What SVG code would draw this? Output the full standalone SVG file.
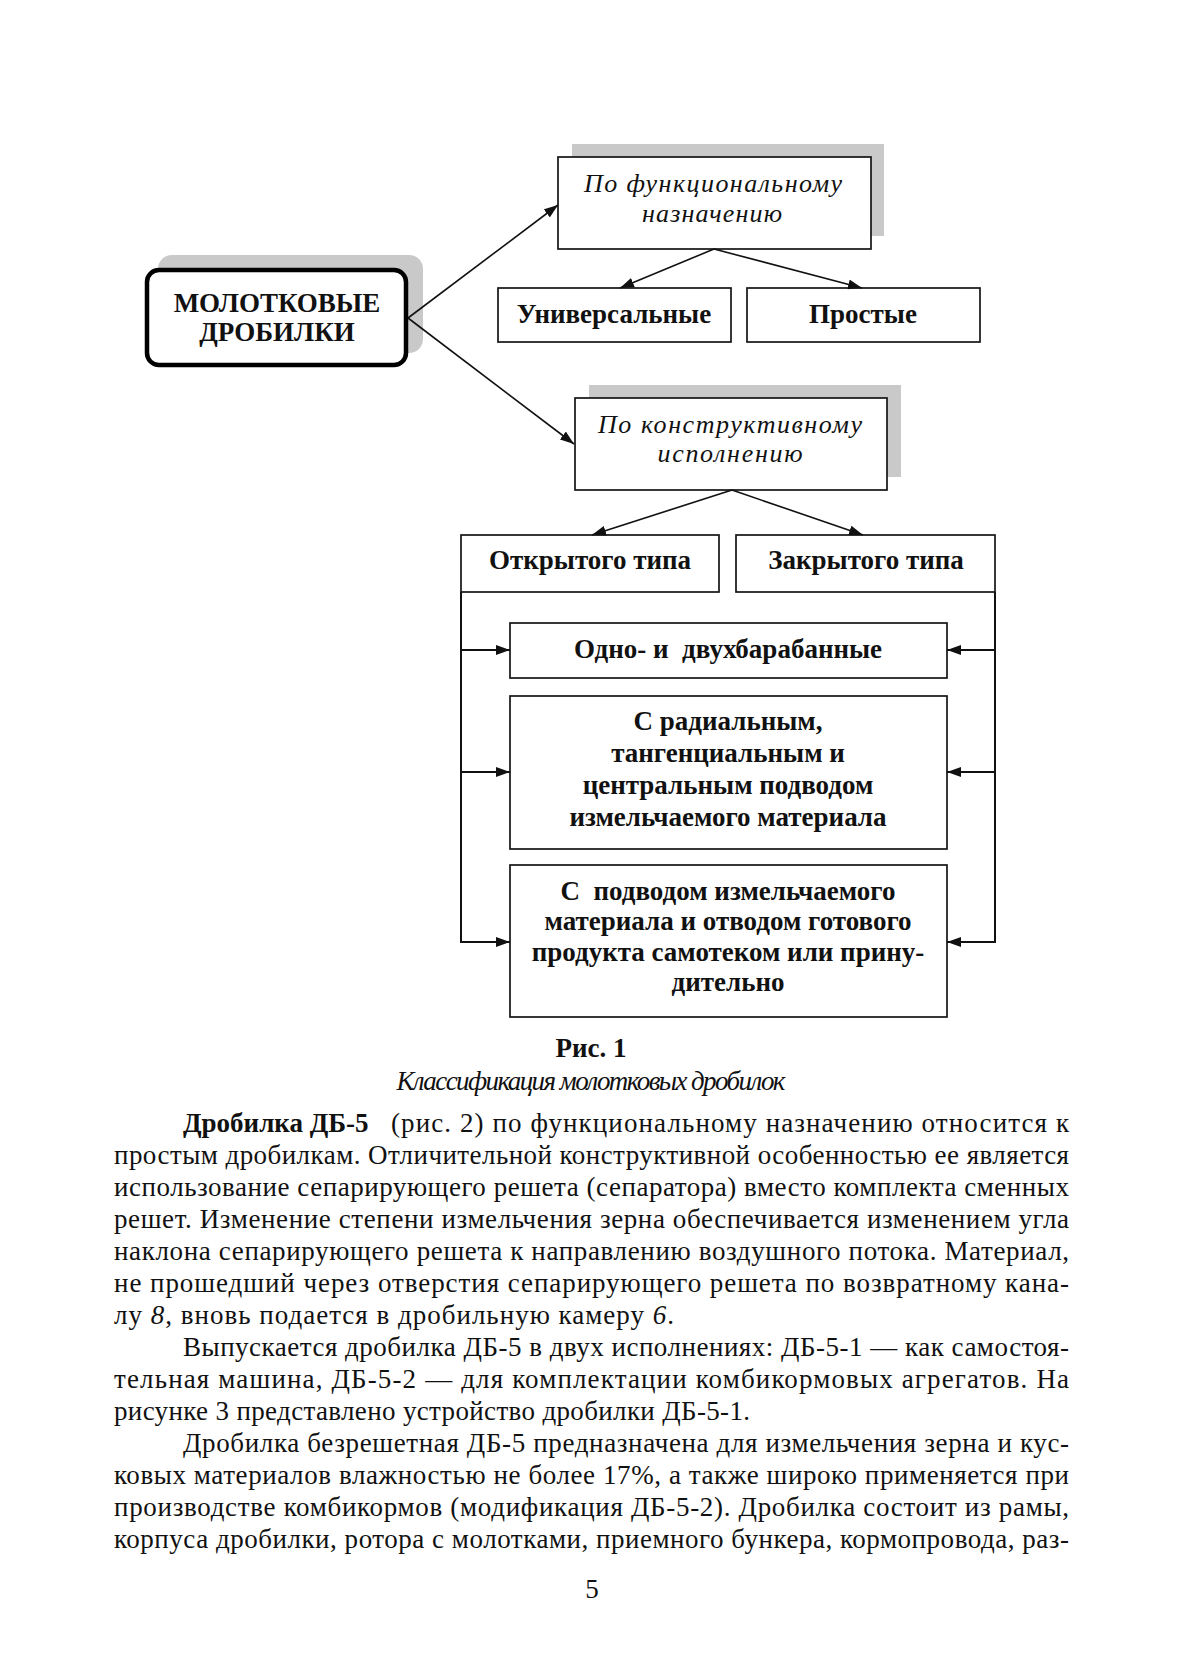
<svg xmlns="http://www.w3.org/2000/svg" width="1183" height="1673" viewBox="0 0 1183 1673">
<defs>
<style>
.shadow{fill:#c9c9c9;stroke:none}
.box{fill:#fff;stroke:#151515;stroke-width:1.7}
.main{fill:#fff;stroke:#000;stroke-width:4.5}
.b{font-family:"Liberation Serif","Times New Roman",serif;font-weight:bold;font-size:27px;fill:#111;text-anchor:middle}
.i{font-family:"Liberation Serif","Times New Roman",serif;font-style:italic;font-size:26px;fill:#111;text-anchor:middle}
.p{font-family:"Liberation Serif","Times New Roman",serif;font-size:27px;fill:#111}
.c{fill:none;stroke:#111;stroke-width:1.6}
.h{fill:none;stroke:#111;stroke-width:2}
</style>
<marker id="ah" viewBox="0 0 14 10" refX="14" refY="5" markerWidth="14" markerHeight="10" markerUnits="userSpaceOnUse" orient="auto">
<path d="M0,0 L14,5 L0,10 z" fill="#111"/>
</marker>
</defs>
<rect width="1183" height="1673" fill="#fff"/>

<g id="node-main">
<rect class="shadow" x="158" y="255" width="265" height="98" rx="14"/>
<rect class="main" x="147" y="270" width="259" height="95" rx="12"/>
<text class="b" x="277" y="312">МОЛОТКОВЫЕ</text>
<text class="b" x="277" y="341">ДРОБИЛКИ</text>
</g>

<g id="node-func">
<rect class="shadow" x="572" y="144" width="312" height="92"/>
<rect class="box" x="558" y="157" width="313" height="92"/>
<text class="i" x="713" y="192" textLength="258">По функциональному</text>
<text class="i" x="712" y="222" textLength="140">назначению</text>
</g>

<g id="node-univ">
<rect class="box" x="498" y="288" width="233" height="54"/>
<text class="b" x="614" y="323">Универсальные</text>
</g>

<g id="node-simple">
<rect class="box" x="747" y="288" width="233" height="54"/>
<text class="b" x="863" y="323">Простые</text>
</g>

<g id="node-constr">
<rect class="shadow" x="589" y="385" width="312" height="92"/>
<rect class="box" x="575" y="398" width="312" height="92"/>
<text class="i" x="730" y="433" textLength="264">По конструктивному</text>
<text class="i" x="730" y="462" textLength="145">исполнению</text>
</g>

<g id="node-open">
<rect class="box" x="461" y="535" width="258" height="57"/>
<text class="b" x="590" y="569">Открытого типа</text>
</g>

<g id="node-closed">
<rect class="box" x="736" y="535" width="259" height="57"/>
<text class="b" x="866" y="569">Закрытого типа</text>
</g>

<g id="node-drum">
<rect class="box" x="510" y="623" width="437" height="55"/>
<text class="b" x="728" y="658" xml:space="preserve">Одно- и  двухбарабанные</text>
</g>

<g id="node-radial">
<rect class="box" x="510" y="696" width="437" height="153"/>
<text class="b" x="728" y="730">С радиальным,</text>
<text class="b" x="728" y="762">тангенциальным и</text>
<text class="b" x="728" y="794">центральным подводом</text>
<text class="b" x="728" y="826">измельчаемого материала</text>
</g>

<g id="node-gravity">
<rect class="box" x="510" y="865" width="437" height="152"/>
<text class="b" x="728" y="900" xml:space="preserve">С  подводом измельчаемого</text>
<text class="b" x="728" y="930">материала и отводом готового</text>
<text class="b" x="728" y="961">продукта самотеком или прину-</text>
<text class="b" x="728" y="991">дительно</text>
</g>

<g id="connectors">
<line class="c" x1="408" y1="318" x2="558" y2="205" marker-end="url(#ah)"/>
<line class="c" x1="408" y1="318" x2="574" y2="444" marker-end="url(#ah)"/>
<line class="c" x1="714" y1="249" x2="620" y2="288" marker-end="url(#ah)"/>
<line class="c" x1="714" y1="249" x2="862" y2="288" marker-end="url(#ah)"/>
<line class="c" x1="732" y1="490" x2="592" y2="535" marker-end="url(#ah)"/>
<line class="c" x1="732" y1="490" x2="863" y2="535" marker-end="url(#ah)"/>
<polyline class="h" points="461,592 461,942 510,942" marker-end="url(#ah)"/>
<line class="h" x1="461" y1="650" x2="510" y2="650" marker-end="url(#ah)"/>
<line class="h" x1="461" y1="772" x2="510" y2="772" marker-end="url(#ah)"/>
<polyline class="h" points="995,592 995,942 947,942" marker-end="url(#ah)"/>
<line class="h" x1="995" y1="650" x2="947" y2="650" marker-end="url(#ah)"/>
<line class="h" x1="995" y1="772" x2="947" y2="772" marker-end="url(#ah)"/>
</g>

<g id="caption">
<text class="p" x="591" y="1057" text-anchor="middle" font-weight="bold" font-size="22">Рис. 1</text>
<text class="p" x="591" y="1090" text-anchor="middle" font-style="italic" font-size="22" textLength="389">Классификация молотковых дробилок</text>
</g>

<g id="body">
<text class="p" x="183" y="1132" font-weight="bold">Дробилка ДБ-5</text>
<text class="p" x="391" y="1132" textLength="678">(рис. 2) по функциональному назначению относится к</text>
<text class="p" x="114" y="1164" textLength="955">простым дробилкам. Отличительной конструктивной особенностью ее является</text>
<text class="p" x="114" y="1196" textLength="955">использование сепарирующего решета (сепаратора) вместо комплекта сменных</text>
<text class="p" x="114" y="1228" textLength="955">решет. Изменение степени измельчения зерна обеспечивается изменением угла</text>
<text class="p" x="114" y="1260" textLength="955">наклона сепарирующего решета к направлению воздушного потока. Материал,</text>
<text class="p" x="114" y="1292" textLength="955">не прошедший через отверстия сепарирующего решета по возвратному кана-</text>
<text class="p" x="114" y="1324" textLength="560">лу <tspan font-style="italic">8</tspan>, вновь подается в дробильную камеру <tspan font-style="italic">6</tspan>.</text>
<text class="p" x="183" y="1356" textLength="886">Выпускается дробилка ДБ-5 в двух исполнениях: ДБ-5-1 — как самостоя-</text>
<text class="p" x="114" y="1388" textLength="955">тельная машина, ДБ-5-2 — для комплектации комбикормовых агрегатов. На</text>
<text class="p" x="114" y="1420" textLength="636">рисунке 3 представлено устройство дробилки ДБ-5-1.</text>
<text class="p" x="183" y="1452" textLength="886">Дробилка безрешетная ДБ-5 предназначена для измельчения зерна и кус-</text>
<text class="p" x="114" y="1484" textLength="955">ковых материалов влажностью не более 17%, а также широко применяется при</text>
<text class="p" x="114" y="1516" textLength="955">производстве комбикормов (модификация ДБ-5-2). Дробилка состоит из рамы,</text>
<text class="p" x="114" y="1548" textLength="955">корпуса дробилки, ротора с молотками, приемного бункера, кормопровода, раз-</text>
<text class="p" x="592" y="1598" text-anchor="middle">5</text>
</g>
</svg>
